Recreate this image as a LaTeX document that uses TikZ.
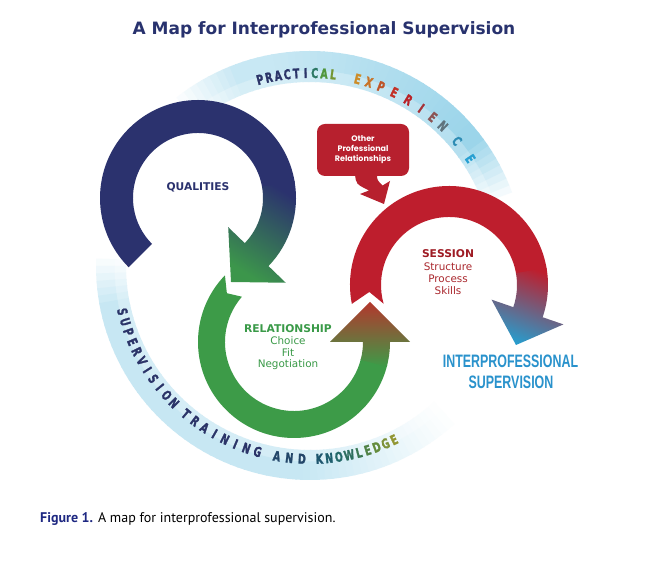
\documentclass[tikz,border=0pt]{standalone}
\usepackage{fontspec}
\usepackage{graphicx}
\setmainfont{DejaVu Sans}
\newfontfamily\ringfont{DejaVu Sans}[FakeStretch=0.7, BoldFeatures={FakeBold=1.6}]
\newfontfamily\condfont{Liberation Sans}[FakeStretch=0.69]
\newfontfamily\callfont{Poppins}
\newfontfamily\capfont{PT Sans}
\definecolor{navyc}{RGB}{43,50,110}
\definecolor{greenc}{RGB}{61,155,72}
\definecolor{redc}{RGB}{190,30,45}
\definecolor{calloutc}{RGB}{183,32,46}
\definecolor{ipblue}{RGB}{41,146,204}
\definecolor{headteal}{RGB}{35,120,105}
\definecolor{headgreen}{RGB}{60,150,75}
\definecolor{olivec}{RGB}{140,110,50}
\definecolor{redbrown}{RGB}{180,55,45}
\definecolor{tipblue}{RGB}{40,156,204}
\definecolor{mauvec}{RGB}{140,100,120}
\definecolor{ringc}{RGB}{90,185,220}
\definecolor{titlenavy}{RGB}{40,50,110}
\definecolor{capblue}{RGB}{30,40,130}
\definecolor{sesdark}{RGB}{158,27,36}
\definecolor{sesred}{RGB}{170,40,46}
\definecolor{relgreen}{RGB}{58,154,72}
% ring letter colours
\definecolor{la}{RGB}{43,52,104}
\definecolor{lb}{RGB}{45,120,100}
\definecolor{lc}{RGB}{80,150,60}
\definecolor{ld}{RGB}{115,150,50}
\definecolor{le}{RGB}{205,140,40}
\definecolor{lf}{RGB}{200,115,40}
\definecolor{lg}{RGB}{190,85,40}
\definecolor{lh}{RGB}{195,50,40}
\definecolor{li}{RGB}{185,35,40}
\definecolor{lj}{RGB}{165,50,55}
\definecolor{lk}{RGB}{140,85,85}
\definecolor{ll}{RGB}{95,115,125}
\definecolor{lm}{RGB}{45,140,180}
\definecolor{ln}{RGB}{40,160,210}
\definecolor{ba}{RGB}{35,70,105}
\definecolor{bb}{RGB}{30,85,110}
\definecolor{bc}{RGB}{30,95,110}
\definecolor{bd}{RGB}{35,105,105}
\definecolor{be}{RGB}{45,110,95}
\definecolor{bf}{RGB}{60,120,85}
\definecolor{bg}{RGB}{80,130,70}
\definecolor{bh}{RGB}{100,140,60}
\definecolor{bi}{RGB}{125,145,55}
\definecolor{bj}{RGB}{145,150,50}
\tikzset{
  ringletter/.style={inner sep=0pt, font=\ringfont\bfseries\fontsize{13.5}{14}\selectfont},
  lbl/.style={inner sep=0pt, anchor=base, font=\fontsize{10.4}{12}\selectfont},
  lblb/.style={inner sep=0pt, anchor=base, font=\bfseries\fontsize{10.7}{12}\selectfont},
}
\begin{document}
\begin{tikzpicture}[x=1pt,y=1pt]
\fill[white] (0,0) rectangle (669,564);
\useasboundingbox (0,0) rectangle (669,564);

% ---------- fading ring ----------
\begin{scope}[shift={(310,298)}]
\foreach \a in {18,20,...,126}{
  \pgfmathsetmacro\p{60*min(1,max(0,(\a-18)/18))*min(1,max(0,(128-\a)/18))*(1-0.45*min(1,max(0,(\a-40)/60)))}
  \pgfmathsetmacro\q{0.75*\p}
  \pgfmathsetmacro\b{\a+2.4}
  \fill[ringc!\q!white] (\a:184) arc[start angle=\a,end angle=\b,radius=184] -- (\b:196) arc[start angle=\b,end angle=\a,radius=196] -- cycle;
  \fill[ringc!\p!white] (\a:195.5) arc[start angle=\a,end angle=\b,radius=195.5] -- (\b:215) arc[start angle=\b,end angle=\a,radius=215] -- cycle;
}
\foreach \a in {176,178,...,310}{
  \pgfmathsetmacro\p{34*min(1,max(0,(\a-176)/14))*min(1,max(0,(312-\a)/45))}
  \pgfmathsetmacro\q{0.75*\p}
  \pgfmathsetmacro\b{\a+2.4}
  \fill[ringc!\q!white] (\a:184) arc[start angle=\a,end angle=\b,radius=184] -- (\b:196) arc[start angle=\b,end angle=\a,radius=196] -- cycle;
  \fill[ringc!\p!white] (\a:195.5) arc[start angle=\a,end angle=\b,radius=195.5] -- (\b:214) arc[start angle=\b,end angle=\a,radius=214] -- cycle;
}
% top letters
\foreach \ang/\ch/\col [count=\i] in {105.0/P/la,102.3/R/la,99.5/A/la,96.8/C/la,94.1/T/la,91.3/I/la,88.6/C/lb,85.8/A/lc,83.1/L/ld,
  75.7/E/le,72.2/X/lf,68.4/P/lg,64.1/E/lh,59.4/R/li,54.8/I/lj,50.5/E/lk,46.5/N/ll,40.4/C/lm,33.8/E/ln}{
  \node[ringletter, text=\col, rotate=\ang-90] (top\i) at (\ang:193) {\ch};
}
% bottom letters
\foreach \ang/\ch/\col [count=\i] in {193.7/S/la,196.85/U/la,200.0/P/la,203.15/E/la,206.3/R/la,209.45/V/la,212.6/I/la,215.75/S/la,218.9/I/la,222.05/O/la,225.2/N/la,
  230.0/T/la,233.46/R/la,236.92/A/la,240.38/I/la,243.84/N/la,247.3/I/la,250.76/N/la,254.22/G/la,
  260.1/A/ba,263.85/N/ba,267.6/D/ba,
  272.8/K/bb,275.7/N/bc,278.6/O/bd,281.7/W/be,284.7/L/bf,287.4/E/bg,290.2/D/bh,293.0/G/bi,295.8/E/bj}{
  \node[ringletter, text=\col, rotate=\ang+90] (bot\i) at (\ang:193) {\ch};
}
\end{scope}

% ---------- blue arrow (QUALITIES) ----------
\begin{scope}[shift={(198,366)}]
\fill[navyc] (225:98) arc[start angle=225,end angle=9,radius=98] -- (9:65) arc[start angle=9,end angle=225,radius=65] -- cycle;
\shade[top color=navyc, middle color=headteal, bottom color=headgreen, shading angle=-32]
  (10:98) arc[start angle=10,end angle=-44,radius=98] -- (-44:122) -- (33,-84) -- (-44:42) -- (-44:65)
  arc[start angle=-44,end angle=10,radius=65] -- cycle;
\end{scope}

% ---------- green arrow (RELATIONSHIP) ----------
\begin{scope}[shift={(294,222)}]
\fill[greenc] (136:96) arc[start angle=136,end angle=346,radius=96] -- (346:69) arc[start angle=346,end angle=139,radius=69] -- (144:83) -- cycle;
\shade[top color=redbrown, middle color=olivec, bottom color=greenc]
  (345:96) arc[start angle=345,end angle=360,radius=96] -- (0:116) -- (76,40) -- (0:36) -- (0:69)
  arc[start angle=360,end angle=345,radius=69] -- cycle;
\end{scope}

% ---------- red arrow (SESSION) ----------
\begin{scope}[shift={(449,279)}]
\fill[redc] (191:99) arc[start angle=191,end angle=9,radius=99] -- (9:68) arc[start angle=9,end angle=196,radius=68] -- (185:80) -- cycle;
\shade[top color=redc, middle color=mauvec, bottom color=tipblue, shading angle=-21]
  (10:99) arc[start angle=10,end angle=-19,radius=99] -- (-19:121) -- (67,-60) -- (-19:45) -- (-19:68)
  arc[start angle=-19,end angle=10,radius=68] -- cycle;
\end{scope}

% ---------- callout ----------
\node[name=callout, fill=calloutc, rounded corners=8pt, minimum width=92pt, minimum height=52pt, inner sep=0pt,
  text=white, align=center, font=\callfont\bfseries\fontsize{8}{10}\selectfont] at (363,414)
  {Other\\Professional\\Relationships};
\fill[calloutc] (355,390) .. controls (356,380) .. (369,373.5) -- (360,370) -- (384,360) -- (390,383)
  -- (382.6,378.5) .. controls (377,384) .. (377,390) -- cycle;

% ---------- labels ----------
\node[inner sep=0pt, font=\bfseries\fontsize{10.7}{12}\selectfont, text=navyc] (qual) at (198,377) {QUALITIES};

\node[lblb, text=relgreen] (rel) at (288,231) {RELATIONSHIP};
\node[lbl, text=relgreen] (choice) at (288,219) {Choice};
\node[lbl, text=relgreen] (fit) at (288,207.5) {Fit};
\node[lbl, text=relgreen] (nego) at (288,196.5) {Negotiation};

\node[lblb, text=sesdark] (ses) at (448,306) {SESSION};
\node[lbl, text=sesred] (struct) at (448,293) {Structure};
\node[lbl, text=sesred] (proc) at (448,281) {Process};
\node[lbl, text=sesred] (skills) at (448,269) {Skills};

\node[inner sep=0pt, anchor=base, font=\condfont\bfseries\fontsize{18}{20}\selectfont, text=ipblue] (ip1) at (510.5,196) {INTERPROFESSIONAL};
\node[inner sep=0pt, anchor=base, font=\condfont\bfseries\fontsize{18}{20}\selectfont, text=ipblue] (ip2) at (511,175) {SUPERVISION};

% ---------- title & caption ----------
\node[inner sep=0pt, anchor=base, font=\bfseries\fontsize{17}{20}\selectfont, text=titlenavy] (title) at (324,529)
  {A Map for Interprofessional Supervision};
\node[inner sep=0pt, anchor=base west, font=\capfont\fontsize{14}{16}\selectfont] (caption) at (40,41)
  {\textcolor{capblue}{\bfseries Figure 1.} A map for interprofessional supervision.};
\end{tikzpicture}
\end{document}
